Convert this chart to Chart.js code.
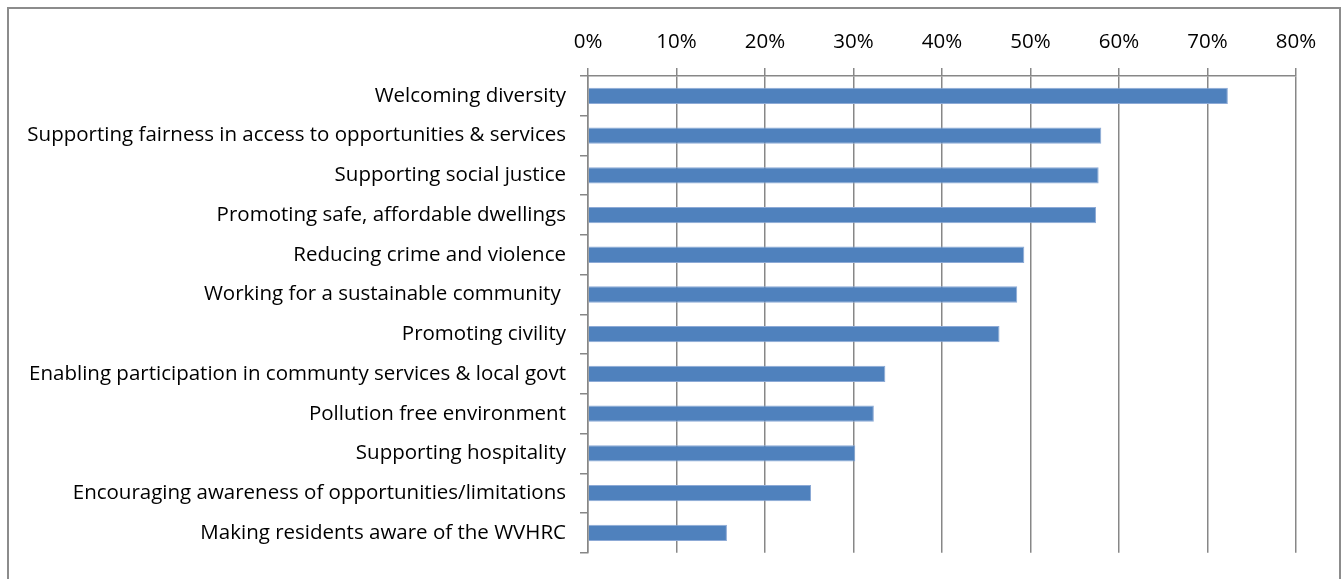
<!DOCTYPE html>
<html>
<head>
<meta charset="utf-8">
<script src="https://cdn.jsdelivr.net/npm/chart.js@4/dist/chart.umd.min.js"></script>
<style>
  html, body { margin: 0; padding: 0; background: #fff; }
  #wrap { position: relative; width: 1343px; height: 579px; }
</style>
</head>
<body>
<div id="wrap"><canvas id="c" width="1343" height="579"></canvas></div>
<script>
const categories = [
  "Welcoming diversity",
  "Supporting fairness in access to opportunities & services",
  "Supporting social justice",
  "Promoting safe, affordable dwellings",
  "Reducing crime and violence",
  "Working for a sustainable community ",
  "Promoting civility",
  "Enabling participation in communty services & local govt",
  "Pollution free environment",
  "Supporting hospitality",
  "Encouraging awareness of opportunities/limitations",
  "Making residents aware of the WVHRC"
];
const values = [0.723, 0.580, 0.577, 0.574, 0.493, 0.485, 0.465, 0.336, 0.323, 0.302, 0.252, 0.157];
const tickValues = [0, 0.1, 0.2, 0.3, 0.4, 0.5, 0.6, 0.7, 0.8];

const FONT = "'Open Sans', sans-serif";

const framePlugin = {
  id: 'frame',
  beforeDraw(chart) {
    const ctx = chart.ctx;
    ctx.save();
    ctx.fillStyle = '#ffffff';
    ctx.fillRect(0, 0, chart.width, chart.height);
    ctx.strokeStyle = '#8c8c8c';
    ctx.lineWidth = 2;
    ctx.strokeRect(8, 8, 1332, 600);
    ctx.restore();
  }
};

new Chart(document.getElementById('c'), {
  type: 'bar',
  data: {
    labels: categories,
    datasets: [{
      data: values,
      backgroundColor: '#4F81BD',
      borderColor: '#8DAAD6',
      borderWidth: 1,
      barPercentage: 0.41,
      categoryPercentage: 1.0
    }]
  },
  options: {
    indexAxis: 'y',
    responsive: false,
    animation: false,
    layout: { padding: { left: 0, right: 47, top: 0, bottom: 22 } },
    plugins: { legend: { display: false }, tooltip: { enabled: false } },
    scales: {
      x: {
        position: 'top',
        min: 0, max: 0.8,
        afterBuildTicks(scale) { scale.ticks = tickValues.map(v => ({ value: v })); },
        afterFit(scale) { scale.height = 76; },
        ticks: {
          color: '#000',
          font: { family: FONT, size: 20.5 },
          padding: 14,
          callback: v => Math.round(v * 100) + '%'
        },
        grid: { color: '#878787', lineWidth: 1.5, tickLength: 8, drawTicks: true },
        border: { display: true, color: '#878787', width: 1.5 }
      },
      y: {
        afterFit(scale) { scale.width = 588; },
        ticks: {
          color: '#000',
          font: { family: FONT, size: 20.5 },
          padding: 14,
          autoSkip: false
        },
        grid: { offset: true, drawOnChartArea: false, color: '#878787', lineWidth: 1.5, tickLength: 8 },
        border: { display: true, color: '#878787', width: 1.5 }
      }
    }
  },
  plugins: [framePlugin]
});
</script>
</body>
</html>
